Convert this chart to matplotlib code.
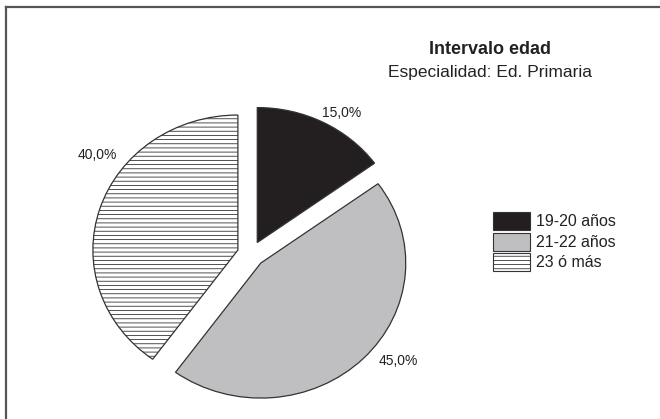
import matplotlib
matplotlib.use('Agg')
import matplotlib.pyplot as plt
from matplotlib.patches import Rectangle
from matplotlib.lines import Line2D

plt.rcParams['font.family'] = ['Liberation Sans', 'DejaVu Sans']
plt.rcParams['hatch.color'] = '#555555'
plt.rcParams['hatch.linewidth'] = 0.6

# data
categorias = ['19-20 años', '21-22 años', '23 ó más']
porcentajes = [15.0, 45.0, 40.0]
colores = ['#231f20', '#bfbfc2', 'white']
tramas = [None, None, '----']
titulo = 'Intervalo edad'
subtitulo = 'Especialidad: Ed. Primaria'

W, H = 660, 419
fig = plt.figure(figsize=(W / 100, H / 100), dpi=100)

# pie axes: slightly wider than tall, like the original
cx, cy = 251, 254     # centre in px (from top)
rx, ry = 145, 135     # radius in px
ax = fig.add_axes([0, 0, 1, 1])
ax.axis('off')

wedges, _ = ax.pie(porcentajes, colors=colores, explode=[0.095] * 3,
                   startangle=90, counterclock=False, radius=1,
                   wedgeprops=dict(edgecolor='#333333', linewidth=0.9))
for w, h in zip(wedges, tramas):
    if h:
        w.set_hatch(h)
# pie() resets limits/aspect, so set them afterwards
ax.set_aspect('auto')
ax.set_xlim(-cx / rx, (W - cx) / rx)
ax.set_ylim(-(H - cy) / ry, cy / ry)

# overlay in pixel coords for texts, legend and frame
ov = fig.add_axes([0, 0, 1, 1], zorder=5)
ov.set_xlim(0, W)
ov.set_ylim(H, 0)
ov.axis('off')
ov.patch.set_alpha(0)

def pct(v):
    return ('%.1f%%' % v).replace('.', ',')

pos_pct = [(342, 113), (398, 361), (97, 155)]
for v, (x, y) in zip(porcentajes, pos_pct):
    ov.text(x, y, pct(v), fontsize=10, color='#222222', ha='center', va='center')

ov.text(490, 49, titulo, fontsize=13, fontweight='bold', color='#222222',
        ha='center', va='center')
ov.text(490, 72, subtitulo, fontsize=12.5, color='#222222',
        ha='center', va='center')

# legend
for i, (lab, c, h) in enumerate(zip(categorias, colores, tramas)):
    y0 = 212 + i * 20.5
    ov.add_patch(Rectangle((493, y0), 37, 18, facecolor=c, hatch=h,
                           edgecolor='#333333', linewidth=0.8))
    ov.text(536, y0 + 9.5, lab, fontsize=11.5, color='#222222',
            ha='left', va='center')

# frame (top and left visible)
ov.add_line(Line2D([5.5, W], [7.5, 7.5], color='#555555', linewidth=1.6))
ov.add_line(Line2D([5.5, 5.5], [7.5, H], color='#555555', linewidth=1.6))

fig.savefig('out.png', dpi=100)
